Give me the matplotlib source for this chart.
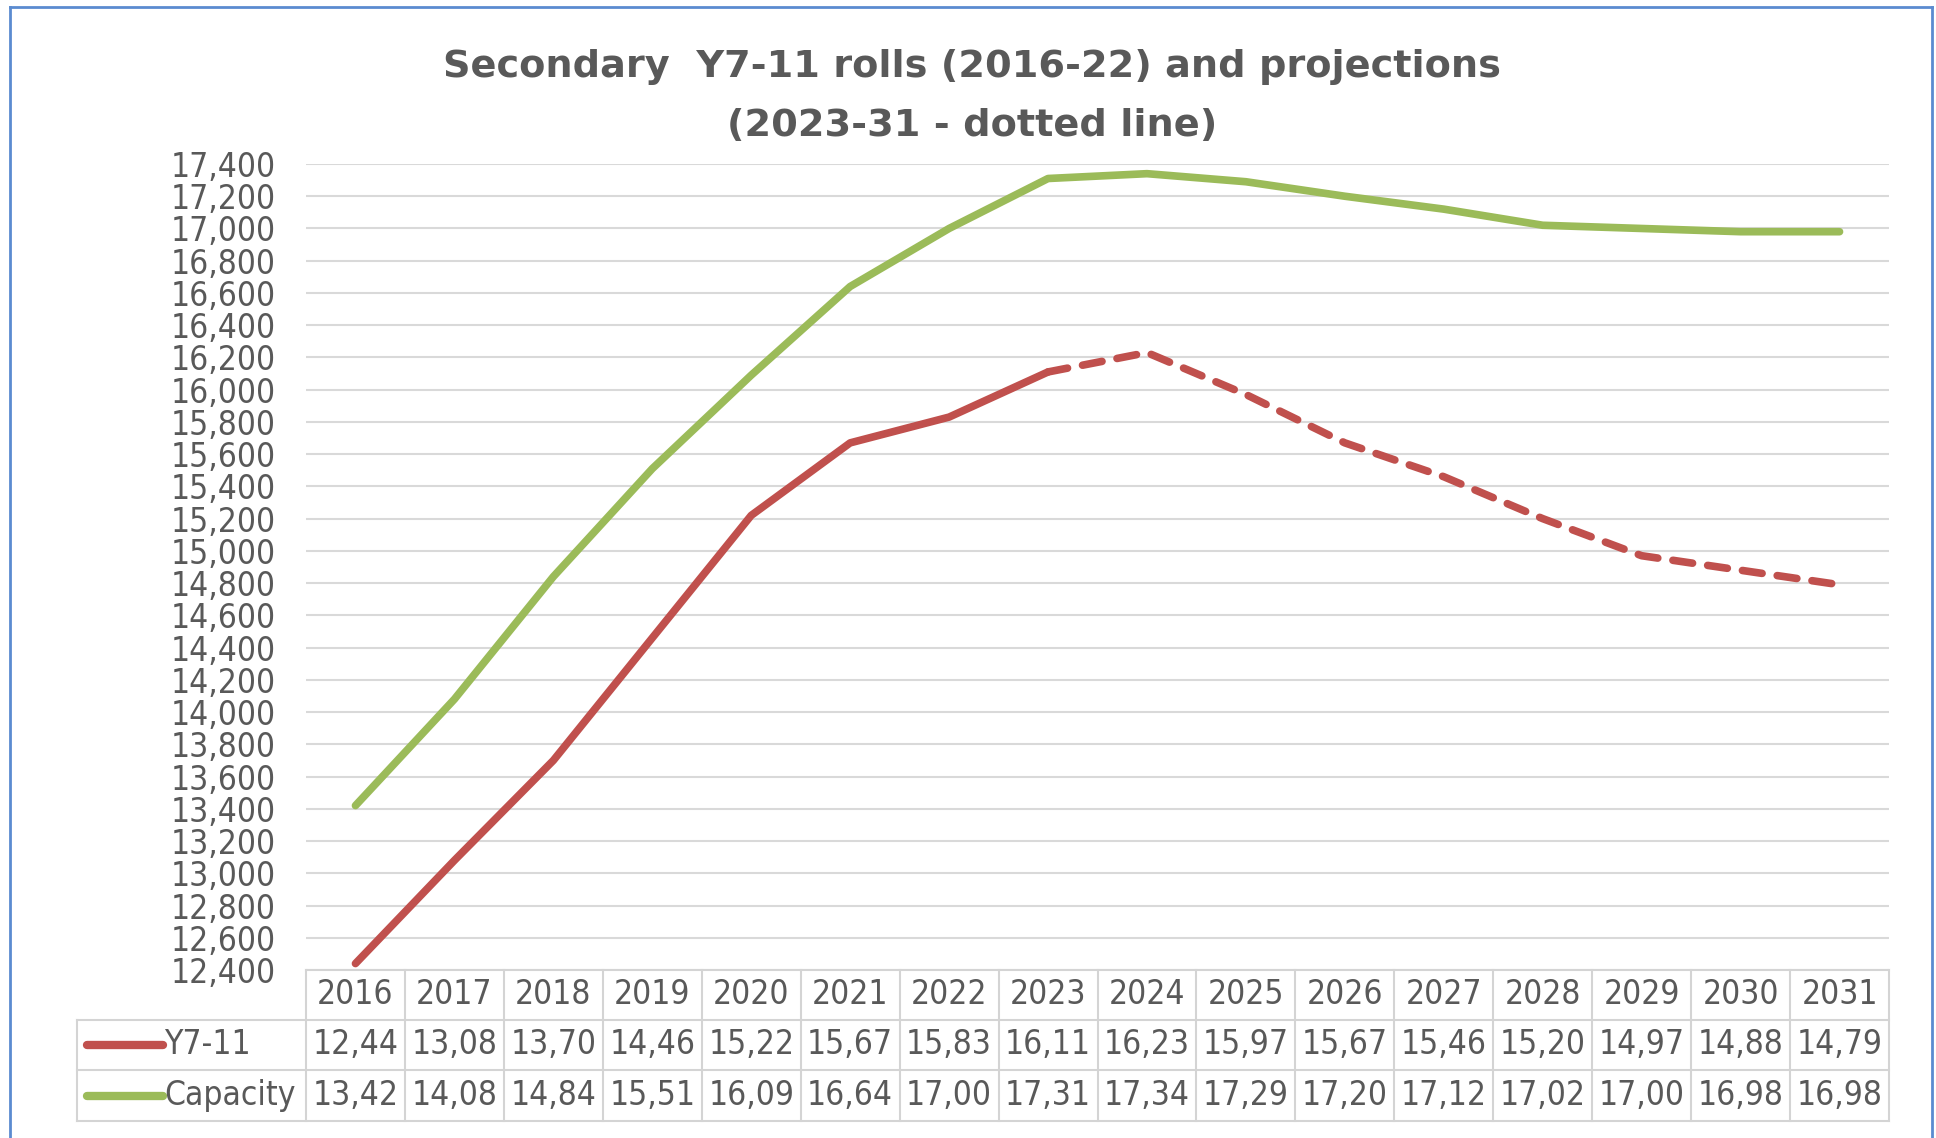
import numpy as np
import matplotlib.pyplot as plt
from matplotlib import transforms
from matplotlib import font_manager
from matplotlib.lines import Line2D
from matplotlib.ticker import FuncFormatter

years = [2016, 2017, 2018, 2019, 2020, 2021, 2022, 2023,
         2024, 2025, 2026, 2027, 2028, 2029, 2030, 2031]
y7_11 = [12440, 13080, 13700, 14460, 15220, 15670, 15830, 16110,
         16230, 15970, 15670, 15460, 15200, 14970, 14880, 14790]
capacity = [13420, 14080, 14840, 15510, 16090, 16640, 17000, 17310,
            17340, 17290, 17200, 17120, 17020, 17000, 16980, 16980]
last_actual = 2023

RED = '#c0504d'
GREEN = '#9bbb59'
TXT = '#595959'
GRID = '#d9d9d9'

# a narrow face for numbers if one exists
cond = [f for f in font_manager.fontManager.ttflist
        if 'DejaVu Sans' == f.name and f.stretch == 'condensed' and f.weight == 400
        and f.style == 'normal']
if cond:
    NUMFONT = dict(family='DejaVu Sans', stretch='condensed')
else:
    NUMFONT = dict(family='DejaVu Sans')
FS = 24

W, H = 1936, 1138
fig = plt.figure(figsize=(W / 100, H / 100), dpi=100)
fig.patch.set_facecolor('white')

def fy(py):
    return 1 - py / H

ax = fig.add_axes([306 / W, fy(970), (1889 - 306) / W, (970 - 164) / H])
x = np.arange(len(years))
k = years.index(last_actual)

ax.plot(x[:k + 1], y7_11[:k + 1], color=RED, lw=5.5, solid_capstyle='round', zorder=3)
ax.plot(x[k:], y7_11[k:], color=RED, lw=5.5, dashes=(2.6, 2.0),
        dash_capstyle='round', zorder=3)
ax.plot(x, capacity, color=GREEN, lw=5.5, solid_capstyle='round', zorder=3)

ax.set_xlim(-0.5, len(years) - 0.5)
ax.set_ylim(12400, 17400)
ax.set_yticks(np.arange(12400, 17401, 200))
ax.yaxis.set_major_formatter(FuncFormatter(lambda v, p: f'{int(v):,}'))
ax.set_xticks([])
ax.tick_params(axis='y', length=0, pad=22, labelcolor=TXT)
for lab in ax.get_yticklabels():
    lab.set_fontproperties(font_manager.FontProperties(size=FS, **NUMFONT))
ax.grid(axis='y', color=GRID, lw=1.5)
for s in ax.spines.values():
    s.set_visible(False)

fig.text(972 / W, fy(67), 'Secondary  Y7-11 rolls (2016-22) and projections',
         ha='center', va='center', fontsize=27.5, fontweight='bold', color=TXT)
fig.text(972 / W, fy(126), '(2023-31 - dotted line)',
         ha='center', va='center', fontsize=27.5, fontweight='bold', color=TXT)

# data table under the plot
tr = transforms.blended_transform_factory(ax.transData, fig.transFigure)
rows = [fy(970), fy(1020), fy(1070), fy(1121)]
TB = '#d4d4d4'
left = 77 / W
x_lo, x_hi = -0.5, len(years) - 0.5

def hline(x0, x1, y, trans):
    fig.add_artist(Line2D([x0, x1], [y, y], transform=trans, color=TB, lw=1.5))

def vline(xx, y0, y1, trans):
    fig.add_artist(Line2D([xx, xx], [y0, y1], transform=trans, color=TB, lw=1.5))

hline(x_lo, x_hi, rows[0], tr)
for r in rows[1:]:
    fig.add_artist(Line2D([left, ax.get_position().x1], [r, r],
                          transform=fig.transFigure, color=TB, lw=1.5))
for i in range(len(years) + 1):
    vline(i - 0.5, rows[0], rows[3], tr)
fig.add_artist(Line2D([left, left], [rows[1], rows[3]],
                      transform=fig.transFigure, color=TB, lw=1.5))

def cell(v):
    return f'{v / 1000:.2f}'.replace('.', ',')

for i, yr in enumerate(years):
    fig.text(i, (rows[0] + rows[1]) / 2, str(yr), transform=tr, ha='center',
             va='center', fontsize=FS, color=TXT, **NUMFONT)
    fig.text(i, (rows[1] + rows[2]) / 2, cell(y7_11[i]), transform=tr, ha='center',
             va='center', fontsize=FS, color=TXT, **NUMFONT)
    fig.text(i, (rows[2] + rows[3]) / 2, cell(capacity[i]), transform=tr, ha='center',
             va='center', fontsize=FS, color=TXT, **NUMFONT)

for r0, r1, name, col in [(rows[1], rows[2], 'Y7-11', RED),
                          (rows[2], rows[3], 'Capacity', GREEN)]:
    yc = (r0 + r1) / 2
    fig.add_artist(Line2D([87 / W, 163 / W], [yc, yc], transform=fig.transFigure,
                          color=col, lw=6, solid_capstyle='round'))
    fig.text(164 / W, yc, name, ha='left', va='center', fontsize=FS,
             color=TXT, **NUMFONT)

# outer blue frame
for xs, ys in [([10 / W, 10 / W], [0, fy(7)]), ([10 / W, 1932 / W], [fy(7), fy(7)]),
               ([1932 / W, 1932 / W], [fy(7), 0])]:
    fig.add_artist(Line2D(xs, ys, transform=fig.transFigure, color='#5b8bd0', lw=2))

fig.savefig('out.png', dpi=100)
